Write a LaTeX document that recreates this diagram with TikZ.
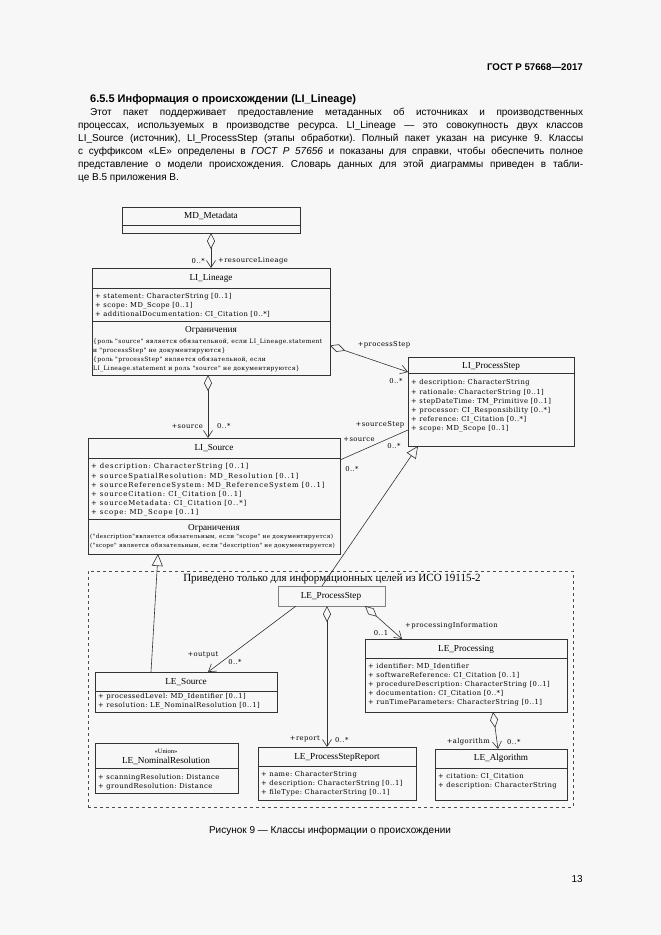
\documentclass[tikz,border=0pt]{standalone}
\usepackage{fontspec}
\setmainfont{Liberation Sans}
\newfontfamily\umlfont[LetterSpace=6]{DejaVu Serif}
\newfontfamily\umlwide[LetterSpace=12]{DejaVu Serif}
\newfontfamily\umlserif{Liberation Serif}
\usetikzlibrary{arrows.meta,positioning}
\frenchspacing

\tikzset{
  cls/.style={draw=black!80, line width=0.7pt, anchor=north west, inner sep=0pt, outer sep=0pt},
  ttl/.style={font=\umlserif\fontsize{9.2}{10}\selectfont, inner sep=0pt},
  attr/.style={font=\umlfont\fontsize{6.8}{7}\selectfont, anchor=west, inner sep=0pt},
  cstr/.style={font=\umlfont\fontsize{6}{7}\selectfont, anchor=west, inner sep=0pt},
  lbl/.style={font=\umlfont\fontsize{6.8}{7}\selectfont, inner sep=0pt},
  assoc/.style={draw=black!80, line width=0.6pt},
  nav/.style={-{Straight Barb[length=7pt,width=9pt]}},
  aggr/.style={{Diamond[open,length=16pt,width=8pt]}-{Straight Barb[length=7pt,width=9pt]}},
  gen/.style={-{Triangle[open,length=12pt,width=11pt]}},
  txt/.style={font=\fontsize{10}{11}\selectfont, anchor=base west, inner sep=0pt},
}

\begin{document}
\begin{tikzpicture}[x=1pt,y=-1pt]
  \fill[black!3] (0,0) rectangle (661,935);
  \useasboundingbox (0,0) rectangle (661,935);

  % page text

  \node[txt,anchor=base east,font=\bfseries\fontsize{9.7}{11}\selectfont] (gost) at (583,70) {ГОСТ Р 57668—2017};
  \node[txt,font=\bfseries\fontsize{11}{12}\selectfont] (head) at (90,102) {6.5.5 Информация о происхождении (LI\_Lineage)};
  \node[txt] (p1) at (90,115) {\makebox[493pt][s]{Этот пакет поддерживает предоставление метаданных об источниках и производственных}};
  \node[txt] (p2) at (78,128) {\makebox[505pt][s]{процессах, используемых в производстве ресурса. LI\_Lineage — это совокупность двух классов}};
  \node[txt] (p3) at (78,141) {\makebox[505pt][s]{LI\_Source (источник), LI\_ProcessStep (этапы обработки). Полный пакет указан на рисунке 9. Классы}};
  \node[txt] (p4) at (78,154) {\makebox[505pt][s]{с суффиксом «LE» определены в \textit{ГОСТ Р 57656} и показаны для справки, чтобы обеспечить полное}};
  \node[txt] (p5) at (78,167) {\makebox[505pt][s]{представление о модели происхождения. Словарь данных для этой диаграммы приведен в табли-}};
  \node[txt] (p6) at (78,180) {це В.5 приложения В.};

  % MD_Metadata

  \node[cls,minimum width=178pt,minimum height=26pt] (MD) at (122,207) {};
  \draw[black!80] (122,225) -- (300,225);
  \node[ttl] (MDt) at (211,216) {MD\_Metadata};

  % LI_Lineage

  \node[cls,minimum width=238pt,minimum height=107pt] (LIL) at (92,268) {};
  \draw[black!80] (92,288) -- (330,288);
  \draw[black!80] (92,321) -- (330,321);
  \node[ttl] (LILt) at (211,278) {LI\_Lineage};
  \foreach \a [count=\i from 0] in {+ statement: CharacterString [0..1],
      + scope: MD\_Scope [0..1], + additionalDocumentation: CI\_Citation [0..*]}
    \node[attr] (LIL-a\i) at (95,{297+9*\i}) {\a};
  \node[ttl] (LILc) at (211,330) {Ограничения};
  \foreach \a [count=\i from 0] in {{\{роль "source" является обязательной, если LI\_Lineage.statement},
      {и "processStep" не документируются\}},
      {\{роль "processStep" является обязательной, если},
      {LI\_Lineage.statement и роль "source" не документируются\}}}
    \node[cstr] (LIL-c\i) at (93,{342+9*\i}) {\a};

  % LI_ProcessStep

  \node[cls,minimum width=166pt,minimum height=89pt] (LIPS) at (408,357) {};
  \draw[black!80] (408,373) -- (574,373);
  \node[ttl] (LIPSt) at (491,366) {LI\_ProcessStep};
  \foreach \a [count=\i from 0] in {+ description: CharacterString,
      + rationale: CharacterString [0..1], + stepDateTime: TM\_Primitive [0..1],
      + processor: CI\_Responsibility [0..*], + reference: CI\_Citation [0..*],
      + scope: MD\_Scope [0..1]}
    \node[attr] (LIPS-a\i) at (411,{383+9.2*\i}) {\a};

  % LI_Source

  \node[cls,minimum width=252pt,minimum height=116pt] (LIS) at (88,438) {};
  \draw[black!80] (88,458) -- (340,458);
  \draw[black!80] (88,519) -- (340,519);
  \node[ttl] (LISt) at (214,448) {LI\_Source};
  \foreach \a [count=\i from 0] in {+ description: CharacterString [0..1],
      + sourceSpatialResolution: MD\_Resolution [0..1],
      + sourceReferenceSystem: MD\_ReferenceSystem [0..1],
      + sourceCitation: CI\_Citation [0..1], + sourceMetadata: CI\_Citation [0..*],
      + scope: MD\_Scope [0..1]}
    \node[attr,font=\umlwide\fontsize{6.9}{7}\selectfont] (LIS-a\i) at (91,{467+9.2*\i}) {\a};
  \node[ttl] (LISc) at (214,528) {Ограничения};
  \node[cstr,font=\umlfont\fontsize{5.75}{7}\selectfont] (LIS-c0) at (90,537) {("description"является обязательным, если "scope" не документируется)};
  \node[cstr,font=\umlfont\fontsize{5.75}{7}\selectfont] (LIS-c1) at (90,546) {("scope" является обязательным, если "description" не документируется)};

  % ISO 19115-2 classes

  \node[cls,draw=black!70,line width=0.6pt,dashed,minimum width=485pt,minimum height=236pt] (ISO) at (88,571) {};
  \node[ttl,font=\umlserif\fontsize{11}{12}\selectfont] (ISOt) at (332,579) {Приведено только для информационных целей из ИСО 19115-2};

  \node[cls,draw=black!50,minimum width=107pt,minimum height=20pt] (LEPS) at (278,586) {};
  \node[ttl] (LEPSt) at (331,596) {LE\_ProcessStep};

  \node[cls,minimum width=182pt,minimum height=40pt] (LES) at (95,672) {};
  \draw[black!80] (95,691) -- (277,691);
  \node[ttl] (LESt) at (186,682) {LE\_Source};
  \node[attr] (LES-a0) at (98,697) {+ processedLevel: MD\_Identifier [0..1]};
  \node[attr] (LES-a1) at (98,706) {+ resolution: LE\_NominalResolution [0..1]};

  \node[cls,minimum width=202pt,minimum height=73pt] (LEP) at (365,639) {};
  \draw[black!80] (365,658) -- (567,658);
  \node[ttl] (LEPt) at (466,649) {LE\_Processing};
  \foreach \a [count=\i from 0] in {+ identifier: MD\_Identifier,
      + softwareReference: CI\_Citation [0..1],
      + procedureDescription: CharacterString [0..1],
      + documentation: CI\_Citation [0..*], + runTimeParameters: CharacterString [0..1]}
    \node[attr] (LEP-a\i) at (368,{667+9*\i}) {\a};

  \node[cls,minimum width=143pt,minimum height=50pt] (LENR) at (95,743) {};
  \draw[black!80] (95,768) -- (238,768);
  \node[ttl,font=\umlserif\fontsize{6.5}{7}\selectfont] (LENRs) at (166,751) {«Union»};
  \node[ttl] (LENRt) at (166,761) {LE\_NominalResolution};
  \node[attr] (LENR-a0) at (98,778) {+ scanningResolution: Distance};
  \node[attr] (LENR-a1) at (98,787) {+ groundResolution: Distance};

  \node[cls,minimum width=158pt,minimum height=53pt] (LEPSR) at (258,747) {};
  \draw[black!80] (258,766) -- (416,766);
  \node[ttl] (LEPSRt) at (337,757) {LE\_ProcessStepReport};
  \foreach \a [count=\i from 0] in {+ name: CharacterString,
      + description: CharacterString [0..1], + fileType: CharacterString [0..1]}
    \node[attr] (LEPSR-a\i) at (261,{775+9*\i}) {\a};

  \node[cls,minimum width=132pt,minimum height=51pt] (LEA) at (435,749) {};
  \draw[black!80] (435,768) -- (567,768);
  \node[ttl] (LEAt) at (501,758) {LE\_Algorithm};
  \node[attr] (LEA-a0) at (438,777) {+ citation: CI\_Citation};
  \node[attr] (LEA-a1) at (438,786) {+ description: CharacterString};

  % connectors

  \draw[assoc,aggr] (MD.south) -- (LIL.north);
  \node[lbl,anchor=east] (l1) at (205,261) {0..*};
  \node[lbl,anchor=west] (l2) at (218,261) {+resourceLineage};

  \draw[assoc,aggr] ([xshift=-3pt]LIL.south) -- ([xshift=-3pt]LIL.south |- LIS.north);
  \node[lbl,anchor=east] (l3) at (203,426) {+source};
  \node[lbl,anchor=west] (l4) at (217,426) {0..*};

  \draw[assoc,aggr] ([yshift=-24pt]LIL.east) -- ([yshift=-15pt]LIPS.north west);
  \node[lbl] (l5) at (384,345) {+processStep};
  \node[lbl] (l6) at (396,381) {0..*};

  \draw[assoc] ([yshift=-22pt]LIS.north east) -- ([yshift=16pt]LIPS.south west);
  \node[lbl] (l7) at (380,425) {+sourceStep};
  \node[lbl] (l8) at (394,446) {0..*};
  \node[lbl] (l9) at (359,439) {+source};
  \node[lbl] (l10) at (352,469) {0..*};

  \draw[assoc,gen] ([xshift=-9.5pt]LEPS.north) -- ([xshift=10pt]LIPS.south west);
  \draw[assoc,gen] ([xshift=56pt]LES.north west) -- ([xshift=70pt]LIS.south west);

  \draw[assoc,nav] ([xshift=18pt]LEPS.south west) -- ([xshift=113pt]LES.north west);
  \node[lbl] (l11) at (203,655) {+output};
  \node[lbl] (l12) at (235,662) {0..*};

  \draw[assoc,aggr] ([xshift=-4.5pt]LEPS.south) -- ([xshift=-4.5pt]LEPS.south |- LEPSR.north);
  \node[lbl,anchor=east] (l13) at (320,739) {+report};
  \node[lbl,anchor=west] (l14) at (335,740) {0..*};

  \draw[assoc,aggr] ([xshift=-20pt]LEPS.south east) -- ([xshift=37pt]LEP.north west);
  \node[lbl] (l15) at (381,633) {0..1};
  \node[lbl,anchor=west] (l16) at (405,626) {+processingInformation};

  \draw[assoc,aggr] ([xshift=128pt]LEP.south west) -- ([xshift=63pt]LEA.north west);
  \node[lbl,anchor=east] (l17) at (490,742) {+algorithm};
  \node[lbl,anchor=west] (l18) at (507,742) {0..*};

  % caption

  \node[txt,anchor=base] (cap) at (330,833) {Рисунок 9 — Классы информации о происхождении};
  \node[txt,anchor=base east] (pg) at (583,882) {13};
\end{tikzpicture}
\end{document}
